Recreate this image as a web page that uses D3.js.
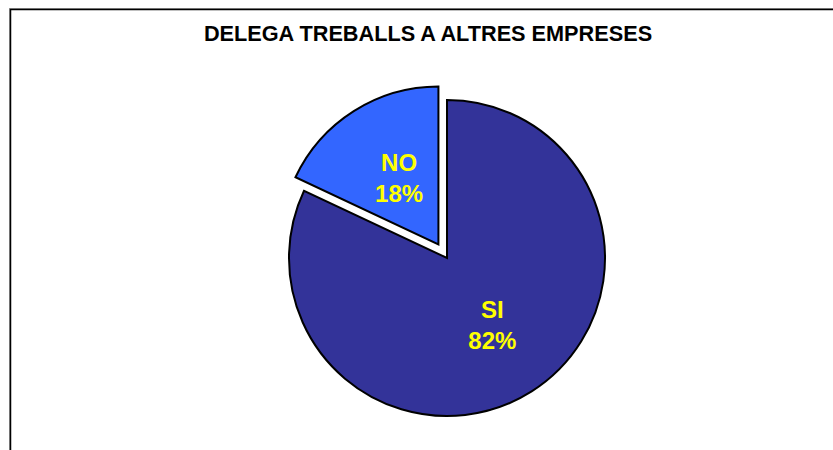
<!DOCTYPE html>
<html>
<head>
<meta charset="utf-8">
<script src="https://cdn.jsdelivr.net/npm/d3@7"></script>
<style>
  body { margin: 0; background: #fff; }
  svg { display: block; font-family: Arial, "Liberation Sans", sans-serif; }
</style>
</head>
<body>
<div id="chart"></div>
<script>
var width = 833, height = 450;

// data
var categories = ['SI', 'NO'];
var values = [82, 18];
var colors = ['#333399', '#3366FF'];
var title = 'DELEGA TREBALLS A ALTRES EMPRESES';

var svg = d3.select('#chart')
  .append('svg')
    .attr('width', width)
    .attr('height', height);

// chart frame (runs off the right and bottom edge)
svg.append('rect')
  .attr('x', 9.5).attr('y', 8.5)
  .attr('width', 900).attr('height', 600)
  .style('fill', 'none')
  .style('stroke', '#999')
  .style('stroke-width', 1);
svg.append('rect')
  .attr('x', 10.5).attr('y', 9.5)
  .attr('width', 900).attr('height', 600)
  .style('fill', 'none')
  .style('stroke', '#000')
  .style('stroke-width', 1.5);

svg.append('text')
  .attr('x', 428).attr('y', 41)
  .attr('text-anchor', 'middle')
  .style('font-weight', 'bold')
  .style('font-size', '21.7px')
  .text(title);

var cx = 447, cy = 258, radius = 158, explode = 16;

var data = categories.map(function(c, i){
  return {name: c, value: values[i], color: colors[i]};
});

var pie = d3.pie().sort(null).value(function(d){ return d.value; });
var arc = d3.arc().innerRadius(0).outerRadius(radius);
// label centre sits at roughly half the radius
var labelArc = d3.arc().innerRadius(radius * 0.5).outerRadius(radius * 0.5);

var g = svg.append('g').attr('transform', 'translate(' + cx + ',' + cy + ')');

var slices = g.selectAll('g.slice')
  .data(pie(data))
  .enter().append('g')
    .attr('class', 'slice')
    .attr('transform', function(d){
      if (d.data.name !== 'NO') return null;
      var a = (d.startAngle + d.endAngle) / 2;
      return 'translate(' + (Math.sin(a) * explode) + ',' + (-Math.cos(a) * explode) + ')';
    });

slices.append('path')
  .attr('d', arc)
  .style('fill', function(d){ return d.data.color; })
  .style('stroke', '#000')
  .style('stroke-width', 2)
  .style('stroke-linejoin', 'miter');

var total = d3.sum(values);

slices.append('text')
  .attr('text-anchor', 'middle')
  .style('fill', '#ffff00')
  .style('font-weight', 'bold')
  .style('font-size', '24px')
  .each(function(d){
    var p = labelArc.centroid(d);
    var t = d3.select(this);
    t.append('tspan').attr('x', p[0] + 3).attr('y', p[1] - 7).text(d.data.name);
    t.append('tspan').attr('x', p[0] + 3).attr('y', p[1] + 24)
      .text(Math.round(d.data.value / total * 100) + '%');
  });
</script>
</body>
</html>
